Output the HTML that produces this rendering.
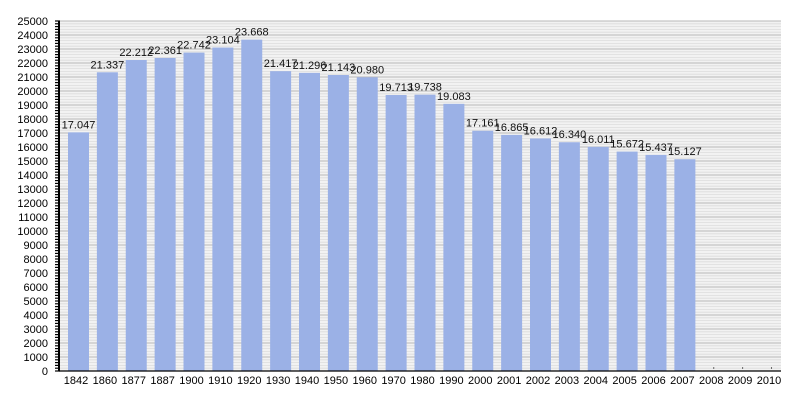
<!DOCTYPE html>
<html><head><meta charset="utf-8"><style>body{margin:0;background:#fff}svg{display:block}</style></head>
<body><svg id="c" width="800" height="400" xmlns="http://www.w3.org/2000/svg" font-family="Liberation Sans, sans-serif"></svg>
<script>
const s=document.getElementById('c');let h='';
const L=60,R=781,T=21,B=371,k=0.014;
h+=`<rect x="${L}" y="${T}" width="${R-L}" height="${B-T}" fill="#f2f2f2"/>`;
for(let v=0;v<=25000;v+=200){const y=B-v*k;const maj=v%1000==0;
h+=`<line x1="${L}" x2="${R}" y1="${y}" y2="${y}" stroke="${maj?'#b8b8b8':'#dcdcdc'}" stroke-width="${maj?1:0.8}"/>`;
h+=`<line x1="55" x2="${L}" y1="${y}" y2="${y}" stroke="#000" stroke-width="1.2"/>`;
if(maj)h+=`<text x="48" y="${y+4}" font-size="11" text-anchor="end">${v}</text>`;}
const yrs=[1842,1860,1877,1887,1900,1910,1920,1930,1940,1950,1960,1970,1980,1990,2000,2001,2002,2003,2004,2005,2006,2007,2008,2009,2010];
const val=[17047,21337,22212,22361,22742,23104,23668,21417,21296,21143,20980,19713,19738,19083,17161,16865,16612,16340,16011,15672,15437,15127,0,0,0];
const w=28.875;
yrs.forEach((yr,i)=>{const cx=76+w*i, bx=cx+2.5;
h+=`<text x="${cx}" y="384" font-size="11" text-anchor="middle">${yr}</text>`;
if(val[i]){const y=B-val[i]*k;
h+=`<rect x="${bx-10.5}" y="${y}" width="21" height="${B-y}" fill="#9bb1e6"/>`;
h+=`<text x="${bx}" y="${y-4}" font-size="11" text-anchor="middle" fill="#111">${(val[i]/1000).toFixed(3)}</text>`;}
else h+=`<circle cx="${bx}" cy="${B-3}" r="0.6" fill="#000"/>`;});
h+=`<line x1="${L-1}" x2="${L-1}" y1="${T}" y2="${B}" stroke="#000" stroke-width="2"/>`;
h+=`<line x1="${L-1}" x2="${R}" y1="${B}" y2="${B}" stroke="#000" stroke-width="1.2"/>`;
s.innerHTML=h;
</script></body></html>
